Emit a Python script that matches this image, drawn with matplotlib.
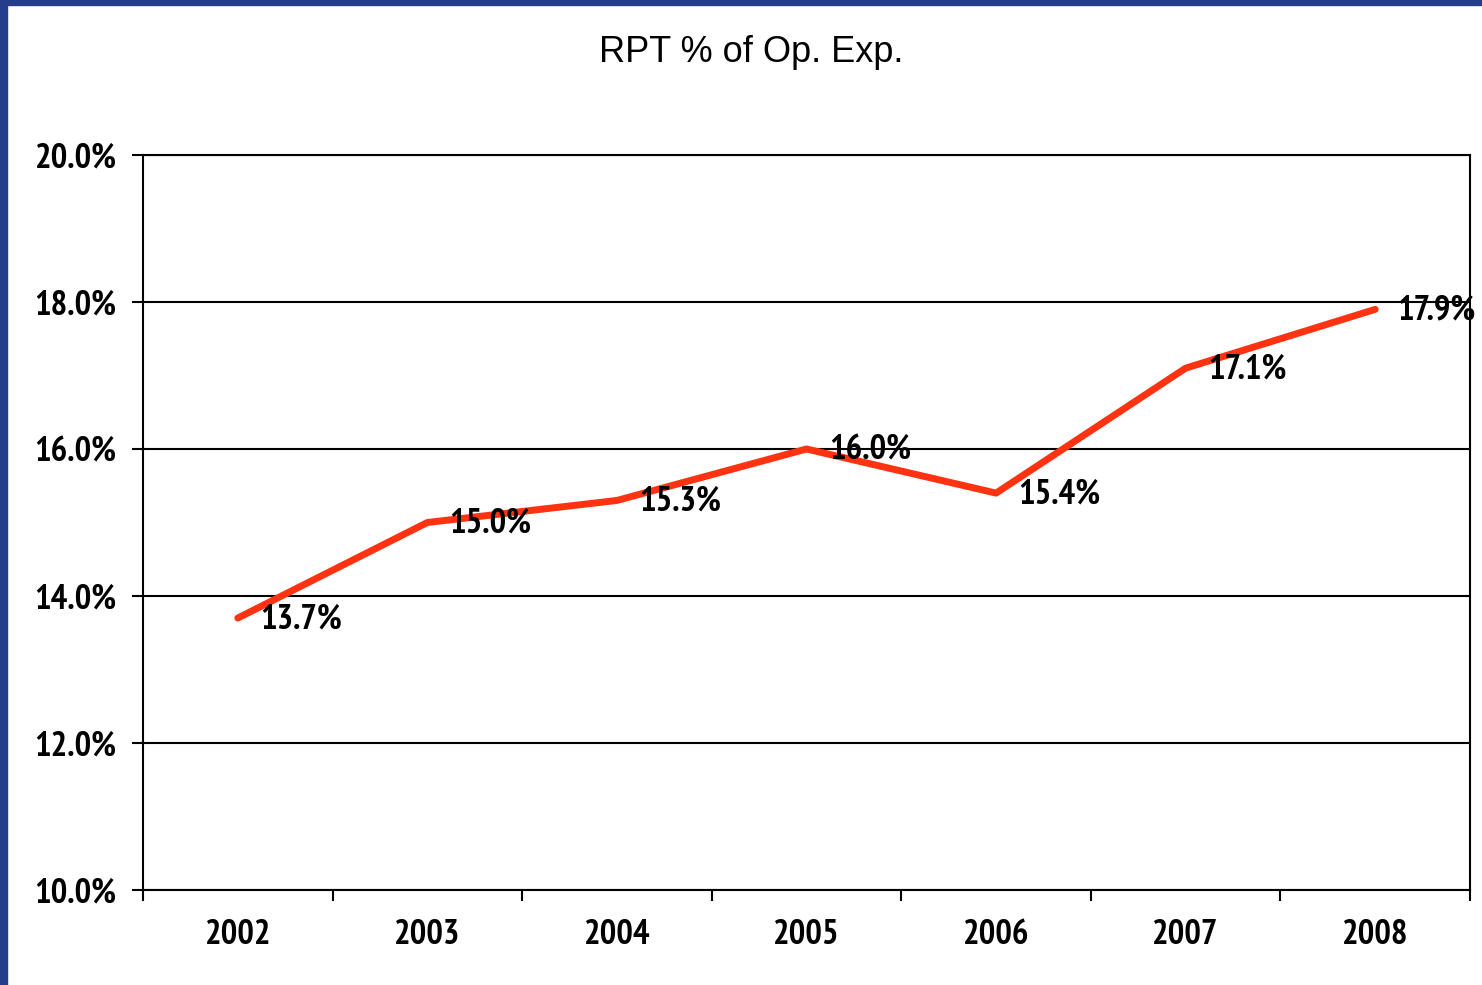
import matplotlib
matplotlib.use("Agg")
import matplotlib.pyplot as plt
from matplotlib.patches import Rectangle

years = ["2002", "2003", "2004", "2005", "2006", "2007", "2008"]
values = [13.7, 15.0, 15.3, 16.0, 15.4, 17.1, 17.9]
labels = ["13.7%", "15.0%", "15.3%", "16.0%", "15.4%", "17.1%", "17.9%"]
yticks = [10, 12, 14, 16, 18, 20]
ytick_labels = ["10.0%", "12.0%", "14.0%", "16.0%", "18.0%", "20.0%"]
title = "RPT % of Op. Exp."

narrow = ["PT Sans Narrow", "DejaVu Sans"]
regular = ["Liberation Sans", "DejaVu Sans"]
FS = 25

W, H = 1482, 985
fig = plt.figure(figsize=(W / 100, H / 100), dpi=100)
fig.patch.set_facecolor("white")

# blue frame
fig.add_artist(Rectangle((0, 0), 7 / W, 1, transform=fig.transFigure, color="#243E8C", zorder=10))
fig.add_artist(Rectangle((0, 1 - 5 / H), 1, 5 / H, transform=fig.transFigure, color="#243E8C", zorder=10))

ax = fig.add_axes([143 / W, (H - 890) / H, (1470 - 143) / W, (890 - 155) / H])
x = list(range(len(years)))
ax.plot(x, values, color="#FF3311", lw=5, solid_capstyle="round", zorder=3)

for xi, v, lab in zip(x, values, labels):
    ax.annotate(lab, (xi, v), xytext=(16, -1), textcoords="offset points",
                ha="left", va="center", fontsize=FS, fontweight="bold",
                family=narrow, color="black", zorder=4, annotation_clip=False)

ax.set_xlim(-0.5, len(years) - 0.5)
ax.set_ylim(10, 20)
ax.set_yticks(yticks)
ax.set_yticklabels(ytick_labels, fontsize=FS, fontweight="bold", family=narrow)
ax.set_xticks(x)
ax.set_xticklabels(years, fontsize=FS, fontweight="bold", family=narrow)
ax.set_xticks([i - 0.5 for i in range(len(years) + 1)], minor=True)
ax.tick_params(axis="x", which="major", length=0, pad=21)
ax.tick_params(axis="x", which="minor", length=8, width=1.5, direction="out")
ax.tick_params(axis="y", length=8, width=1.5, direction="out", pad=11)
ax.grid(axis="y", color="black", lw=1.5)
ax.set_axisbelow(True)
for s in ax.spines.values():
    s.set_linewidth(1.5)
    s.set_color("black")

fig.text(751 / W, 1 - 53 / H, title, ha="center", va="center", fontsize=26, family=regular)

fig.savefig("out.png", dpi=100)
